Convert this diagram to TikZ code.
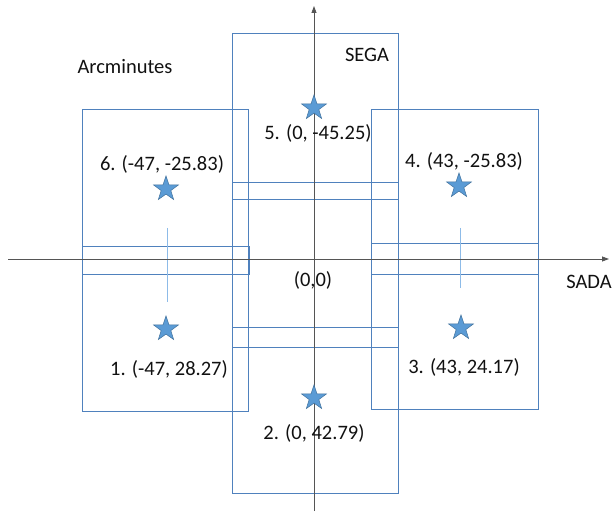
\documentclass[tikz,border=0pt]{standalone}
\usepackage{fontspec}
\setmainfont{Carlito}
\usetikzlibrary{shapes.geometric,arrows.meta}
\definecolor{frameblue}{HTML}{4F81BD}
\definecolor{starfill}{HTML}{5B9BD5}
\definecolor{starline}{HTML}{41719C}
\definecolor{guideblue}{HTML}{8DBBE8}
\definecolor{axisgray}{HTML}{555555}
\definecolor{inkgray}{HTML}{111111}
\tikzset{
  fov/.style={draw=frameblue, line width=0.9pt},
  guide/.style={draw=guideblue, line width=0.6pt},
  axisline/.style={draw=axisgray, line width=0.8pt, -{Triangle[length=7pt,width=5pt]}},
  target/.style={star, star points=5, star point ratio=2.55, minimum size=26pt,
    inner sep=0pt, fill=starfill, draw=starline, line width=0.5pt},
  lbl/.style={text=inkgray, inner sep=0pt, font=\fontsize{20.5}{24}\selectfont}
}
\begin{document}
\begin{tikzpicture}[x=1pt, y=-1pt]
\useasboundingbox (0,0) rectangle (613,513);
% detector footprints
\draw[fov] (232,33) rectangle (398,493);
\draw[fov] (82,109) rectangle (248,411);
\draw[fov] (371,109) rectangle (538,409);
% overlap strips
\draw[fov] (232,182) rectangle (398,199);
\draw[fov] (232,327) rectangle (398,347);
\draw[fov] (82,246) rectangle (249,274);
\draw[fov] (371,243) rectangle (538,274);
% faint guide lines between pointing pairs
\draw[guide] (167,228) -- (167,302);
\draw[guide] (460,228) -- (460,288);
% axes
\coordinate (xl) at (8,259);
\coordinate (xr) at (609,259);
\coordinate (yb) at (314,511);
\coordinate (yt) at (314,6);
\draw[axisline] (xl) -- (xr);
\draw[axisline] (yb) -- (yt);
% pointings
\node[target] (s5) at (314,108) {};
\node[target] (s6) at (166,189) {};
\node[target] (s4) at (459,186) {};
\node[target] (s1) at (166,329) {};
\node[target] (s3) at (461,328) {};
\node[target] (s2) at (314,398) {};
% labels
\node[lbl] (unit) at (125,67) {Arcminutes};
\node[lbl] (sega) at (367,55) {SEGA};
\node[lbl] (sada) at (589,282) {SADA};
\node[lbl] (orig) at (313,280) {(0,0)};
\node[lbl] (l5) at (318,133) {5. (0, -45.25)};
\node[lbl] (l6) at (162,164) {6. (-47, -25.83)};
\node[lbl] (l4) at (464,161) {4. (43, -25.83)};
\node[lbl] (l1) at (169,369) {1. (-47, 28.27)};
\node[lbl] (l3) at (464,367) {3. (43, 24.17)};
\node[lbl] (l2) at (314,433) {2. (0, 42.79)};
\end{tikzpicture}
\end{document}
